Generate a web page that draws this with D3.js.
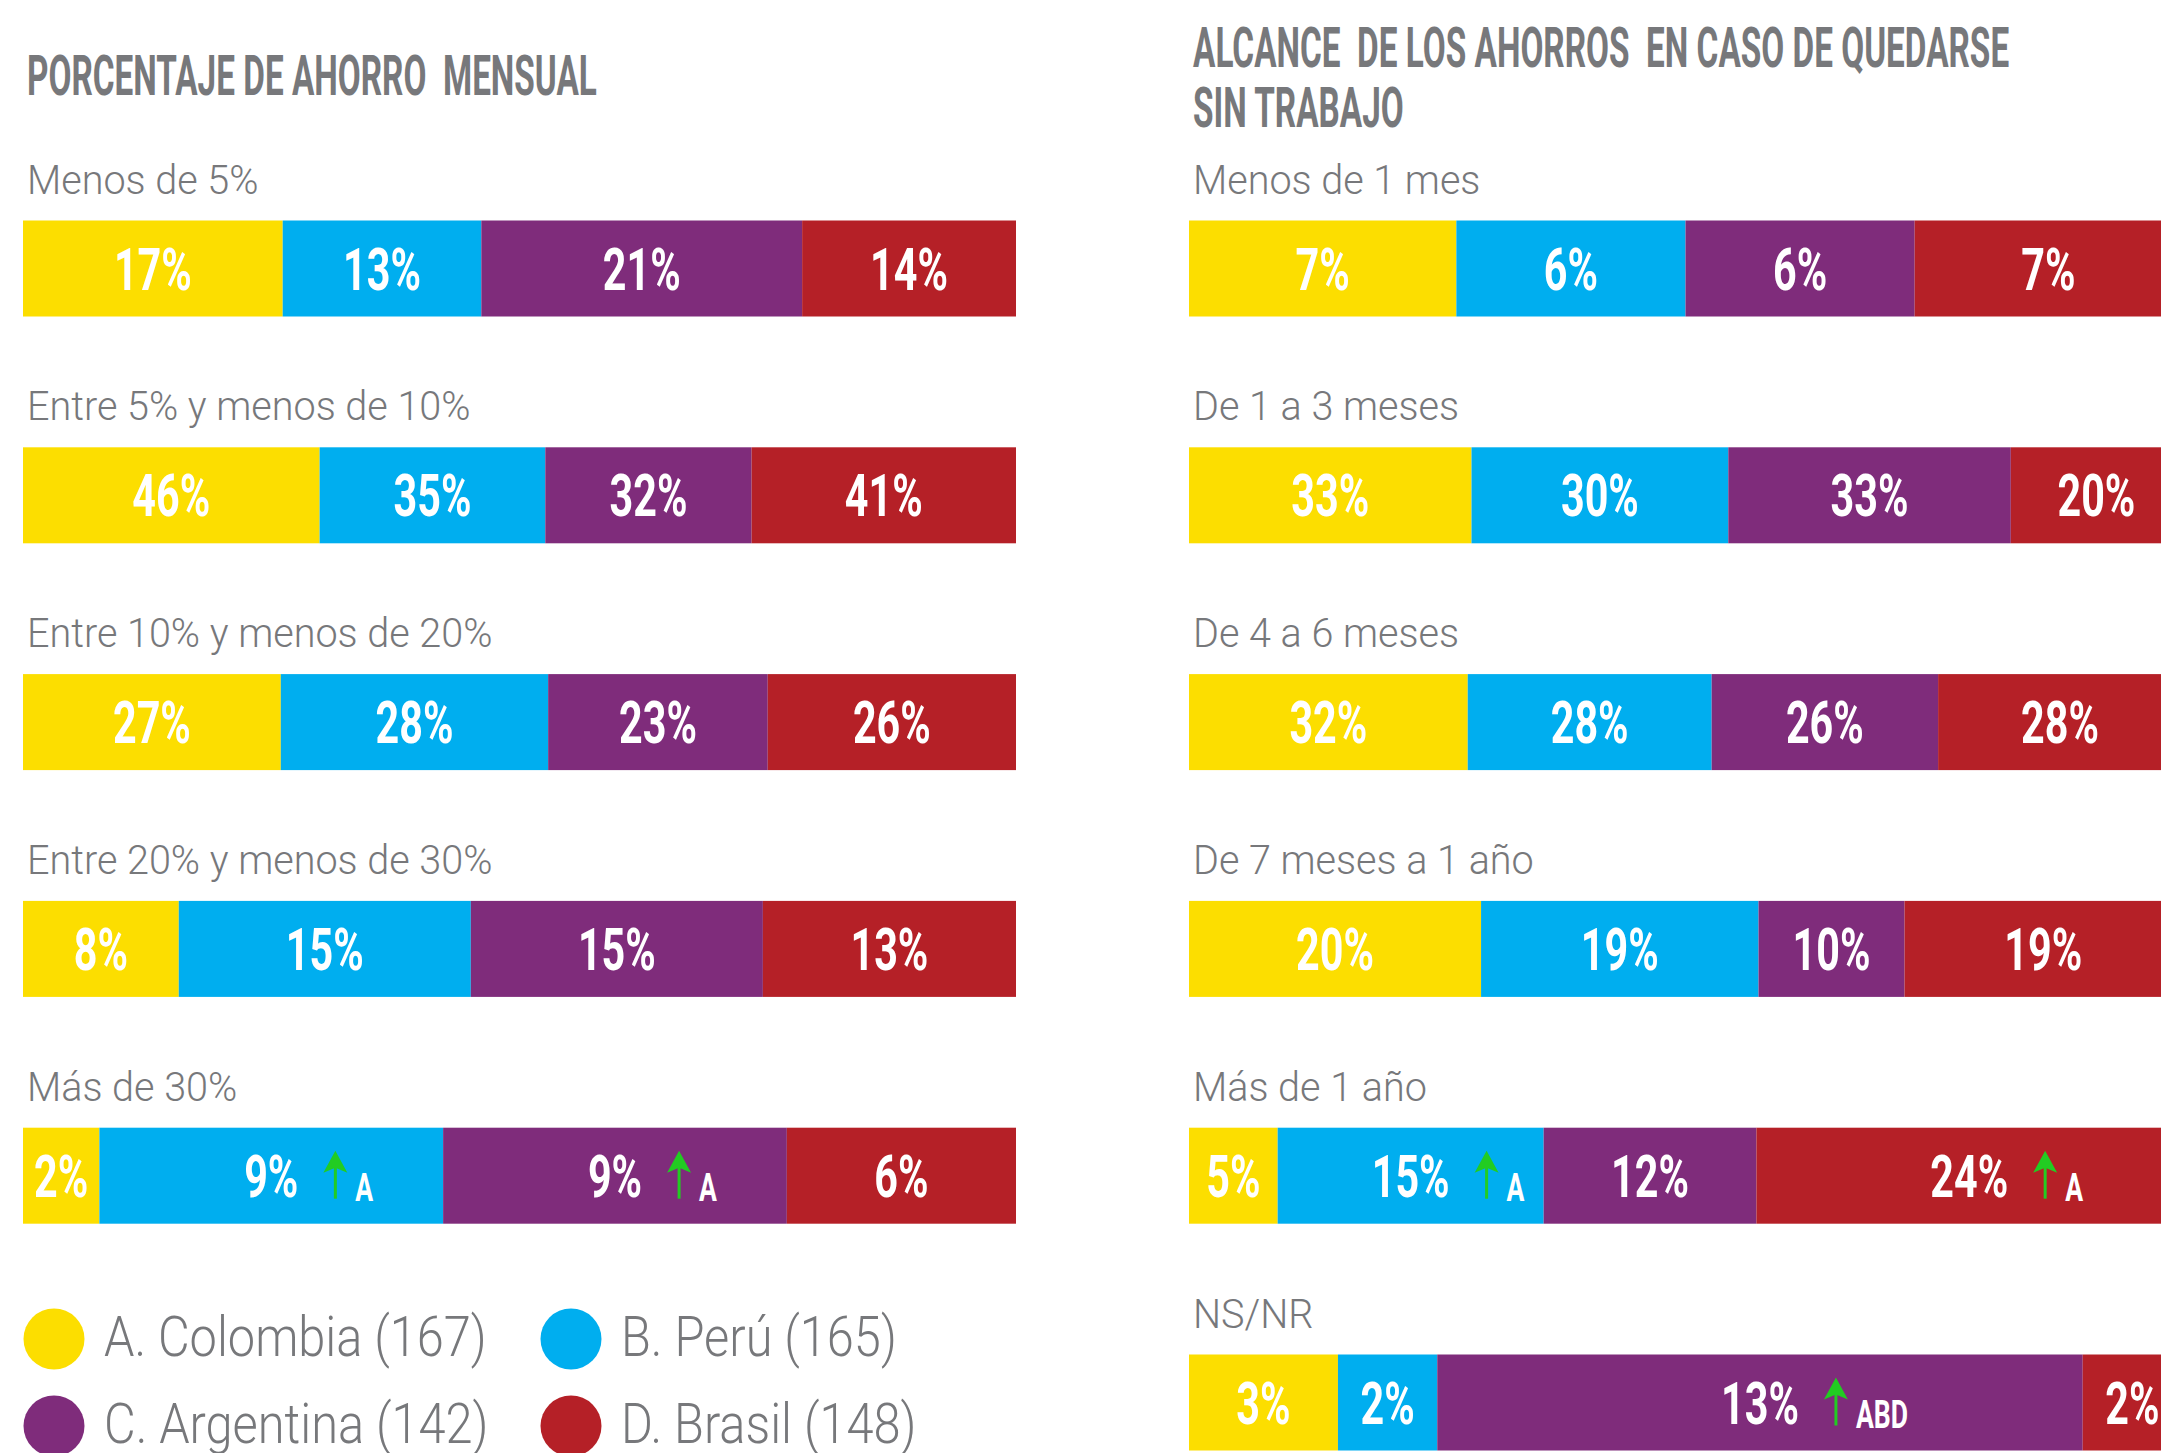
<!DOCTYPE html>
<html>
<head>
<meta charset="utf-8">
<script src="https://cdn.jsdelivr.net/npm/d3@7"></script>
<style>
  body { margin: 0; background: #fff; overflow: hidden; }
  text { font-family: Roboto, "Noto Sans", sans-serif; white-space: pre; }
  .title { font-size: 56px; font-weight: 700; fill: #77787b; }
  .rowlab { font-size: 41px; font-weight: 300; fill: #77787b; }
  .val { font-size: 59px; font-weight: 700; fill: #fff; }
  .sig { font-size: 38px; font-weight: 700; fill: #fff; }
  .leg { font-size: 56px; font-weight: 300; fill: #77787b; }
</style>
</head>
<body>
<svg id="chart"></svg>
<script>
// series keys / legend
const keys = ["A", "B", "C", "D"];
const countryNames = ["A. Colombia (167)", "B. Perú (165)", "C. Argentina (142)", "D. Brasil (148)"];
const countryColors = ["#fcde00", "#00aeef", "#7f2c7b", "#b52027"];

// panel 1: porcentaje de ahorro mensual
const savingsTitle = ["PORCENTAJE DE AHORRO  MENSUAL"];
const savingsCats = ["Menos de 5%", "Entre 5% y menos de 10%", "Entre 10% y menos de 20%", "Entre 20% y menos de 30%", "Más de 30%"];
const savingsA = [17, 46, 27, 8, 2];
const savingsB = [13, 35, 28, 15, 9];
const savingsC = [21, 32, 23, 15, 9];
const savingsD = [14, 41, 26, 13, 6];
// [category, series, significantly higher than]
const savingsMarks = [["Más de 30%", "B", "A"], ["Más de 30%", "C", "A"]];

// panel 2: alcance de los ahorros
const reachTitle = ["ALCANCE  DE LOS AHORROS  EN CASO DE QUEDARSE", "SIN TRABAJO"];
const reachCats = ["Menos de 1 mes", "De 1 a 3 meses", "De 4 a 6 meses", "De 7 meses a 1 año", "Más de 1 año", "NS/NR"];
const reachA = [7, 33, 32, 20, 5, 3];
const reachB = [6, 30, 28, 19, 15, 2];
const reachC = [6, 33, 26, 10, 12, 13];
const reachD = [7, 20, 28, 19, 24, 2];
const reachMarks = [["Más de 1 año", "B", "A"], ["Más de 1 año", "D", "A"], ["NS/NR", "C", "ABD"]];

const W = 2161, H = 1453;
const barW = 993, barH = 96, rowStep = 226.8, firstBar = 220.5;

const svg = d3.select("#chart").attr("width", W).attr("height", H);

const color = d3.scaleOrdinal().domain(keys).range(countryColors);

// condensed text: squeeze horizontally
function condText(parent, x, y, str, cls, sx, anchor) {
    const g = parent.append("g").attr("transform", "translate(" + x + "," + y + ") scale(" + sx + ",1)");
    return g.append("text")
        .attr("class", cls)
        .attr("text-anchor", anchor || "start")
        .text(str);
}

function drawPanel(x0, title, cats, series, marks) {
    const panel = svg.append("g");

    title.forEach(function (t, i) {
        const base = title.length > 1 ? 67 + i * 60 : 95;
        condText(panel, x0 + 4, base, t, "title", 0.595);
    });

    const rows = cats.map(function (c, i) {
        const r = { cat: c };
        keys.forEach(function (k, j) { r[k] = series[j][i]; });
        return r;
    });
    const stacked = d3.stack().keys(keys).offset(d3.stackOffsetExpand)(rows);

    const x = d3.scaleLinear().domain([0, 1]).range([x0, x0 + barW]);
    const y = d3.scaleLinear().domain([0, 1]).range([firstBar, firstBar + rowStep]);
    const idx = d3.scaleOrdinal().domain(cats).range(d3.range(cats.length));

    // row labels
    cats.forEach(function (c) {
        condText(panel, x0 + 4, y(idx(c)) - 27, c, "rowlab", 0.965);
    });

    // segments
    const layer = panel.selectAll(".layer")
        .data(stacked)
        .enter().append("g")
        .attr("fill", function (d) { return color(d.key); });

    layer.selectAll("rect")
        .data(function (d) { return d; })
        .enter().append("rect")
        .attr("x", function (d) { return x(d[0]); })
        .attr("width", function (d) { return x(d[1]) - x(d[0]); })
        .attr("y", function (d) { return y(idx(d.data.cat)); })
        .attr("height", barH);

    // value labels
    stacked.forEach(function (s) {
        s.forEach(function (d) {
            const cx = (x(d[0]) + x(d[1])) / 2;
            const base = y(idx(d.data.cat)) + barH / 2 + 21;
            const t = condText(panel, cx, base, d.data[s.key] + "%", "val", 0.7, "middle");
            const tw = t.node().getComputedTextLength() * 0.7;

            const m = marks.find(function (mk) { return mk[0] === d.data.cat && mk[1] === s.key; });
            if (m) {
                const ax = cx + tw / 2 + 37;
                panel.append("line")
                    .attr("x1", ax).attr("x2", ax)
                    .attr("y1", base + 2).attr("y2", base - 30)
                    .attr("stroke", "#22cc22")
                    .attr("stroke-width", 3);
                const top = base - 46;
                panel.append("path")
                    .attr("d", "M" + ax + "," + top +
                        "L" + (ax + 12) + "," + (top + 22) +
                        "L" + ax + "," + (top + 17) +
                        "L" + (ax - 12) + "," + (top + 22) + "Z")
                    .attr("fill", "#22cc22");
                condText(panel, ax + 20, base + 4, m[2], "sig", 0.7);
            }
        });
    });
}

drawPanel(23, savingsTitle, savingsCats, [savingsA, savingsB, savingsC, savingsD], savingsMarks);
drawPanel(1189, reachTitle, reachCats, [reachA, reachB, reachC, reachD], reachMarks);

// legend, two columns
const legX = [54, 571];
const legY = [1339, 1426];
const legend = svg.append("g");
countryNames.forEach(function (n, i) {
    const cx = legX[i % 2], cy = legY[Math.floor(i / 2)];
    legend.append("circle")
        .attr("cx", cx).attr("cy", cy).attr("r", 30.5)
        .attr("fill", countryColors[i]);
    condText(legend, cx + 50, cy + 17, n, "leg", 0.87);
});
</script>
</body>
</html>
